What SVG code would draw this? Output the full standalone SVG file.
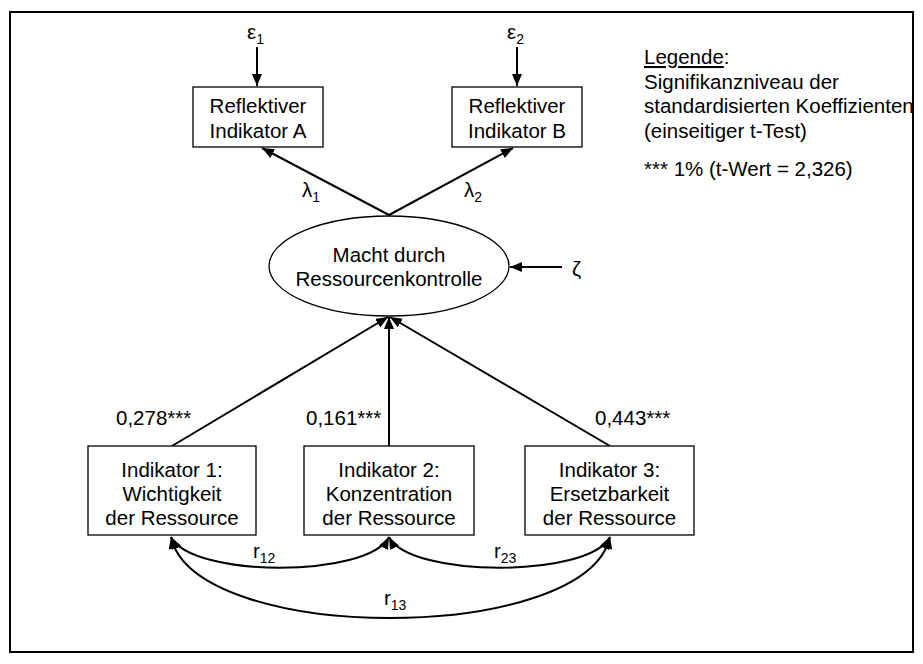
<svg xmlns="http://www.w3.org/2000/svg" width="923" height="664" viewBox="0 0 923 664">
<style>
text{font-family:"Liberation Sans",Arial,sans-serif;font-size:20.5px;fill:#000}
.c{text-anchor:middle}
.sub{font-size:14px}
.box{fill:#fff;stroke:#000;stroke-width:1.3}
.ln{fill:none;stroke:#000;stroke-width:2}
</style>
<defs>
<marker id="ah" markerUnits="userSpaceOnUse" markerWidth="13" markerHeight="11" refX="12" refY="5" orient="auto-start-reverse" viewBox="0 0 13 11">
<path d="M0,0 L12,5 L0,10 z" fill="#000"/>
</marker>
</defs>
<rect x="10" y="12" width="903" height="640" fill="#fff" stroke="#000" stroke-width="2"/>

<g id="connectors">
<line class="ln" x1="257" y1="47" x2="257" y2="86" marker-end="url(#ah)"/>
<line class="ln" x1="517" y1="47" x2="517" y2="86" marker-end="url(#ah)"/>
<line class="ln" x1="389" y1="215" x2="262" y2="148" marker-end="url(#ah)"/>
<line class="ln" x1="389" y1="215" x2="513" y2="148" marker-end="url(#ah)"/>
<line class="ln" x1="562" y1="267" x2="510" y2="267" marker-end="url(#ah)"/>
<line class="ln" x1="172" y1="446" x2="388" y2="317" marker-end="url(#ah)"/>
<line class="ln" x1="389" y1="446" x2="389" y2="317" marker-end="url(#ah)"/>
<line class="ln" x1="610" y1="446" x2="390" y2="317" marker-end="url(#ah)"/>
<path class="ln" d="M171,537 C192,578 368,578 389,537" marker-start="url(#ah)" marker-end="url(#ah)"/>
<path class="ln" d="M389,537 C410,578 589,578 610,537" marker-start="url(#ah)" marker-end="url(#ah)"/>
<path class="ln" d="M171,537 C195,645 585,645 610,537" marker-start="url(#ah)" marker-end="url(#ah)"/>
<text x="253" y="558">r<tspan class="sub" dy="5">12</tspan></text>
<text x="494" y="558">r<tspan class="sub" dy="5">23</tspan></text>
<text x="384" y="605">r<tspan class="sub" dy="5">13</tspan></text>
<text x="302" y="197">λ<tspan class="sub" dy="5">1</tspan></text>
<text x="464" y="197">λ<tspan class="sub" dy="5">2</tspan></text>
<text x="116" y="425">0,278***</text>
<text x="306" y="425">0,161***</text>
<text x="595" y="425">0,443***</text>
</g>

<g id="eps1"><text x="247" y="39">ε<tspan class="sub" dy="5">1</tspan></text></g>
<g id="eps2"><text x="507" y="39">ε<tspan class="sub" dy="5">2</tspan></text></g>
<g id="zeta"><text x="572" y="276">ζ</text></g>

<g id="indA">
<rect class="box" x="193" y="87" width="130" height="60"/>
<text class="c" x="258" y="113">Reflektiver</text>
<text class="c" x="258" y="138">Indikator A</text>
</g>
<g id="indB">
<rect class="box" x="452" y="87" width="130" height="60"/>
<text class="c" x="517" y="113">Reflektiver</text>
<text class="c" x="517" y="138">Indikator B</text>
</g>

<g id="latent">
<ellipse cx="389" cy="266" rx="120" ry="50" fill="#fff" stroke="#000" stroke-width="1.3"/>
<text class="c" x="389" y="262">Macht durch</text>
<text class="c" x="389" y="286">Ressourcenkontrolle</text>
</g>

<g id="ind1">
<rect class="box" x="88" y="446" width="168" height="89"/>
<text class="c" x="172" y="477">Indikator 1:</text>
<text class="c" x="172" y="501">Wichtigkeit</text>
<text class="c" x="172" y="525">der Ressource</text>
</g>
<g id="ind2">
<rect class="box" x="304" y="446" width="170" height="89"/>
<text class="c" x="389" y="477">Indikator 2:</text>
<text class="c" x="389" y="501">Konzentration</text>
<text class="c" x="389" y="525">der Ressource</text>
</g>
<g id="ind3">
<rect class="box" x="525" y="446" width="169" height="89"/>
<text class="c" x="609.5" y="477">Indikator 3:</text>
<text class="c" x="609.5" y="501">Ersetzbarkeit</text>
<text class="c" x="609.5" y="525">der Ressource</text>
</g>

<g id="legend">
<text x="644" y="64"><tspan text-decoration="underline">Legende</tspan>:</text>
<text x="644" y="89">Signifikanzniveau der</text>
<text x="644" y="113">standardisierten Koeffizienten</text>
<text x="644" y="138">(einseitiger t-Test)</text>
<text x="644" y="176">*** 1% (t-Wert = 2,326)</text>
</g>
</svg>
